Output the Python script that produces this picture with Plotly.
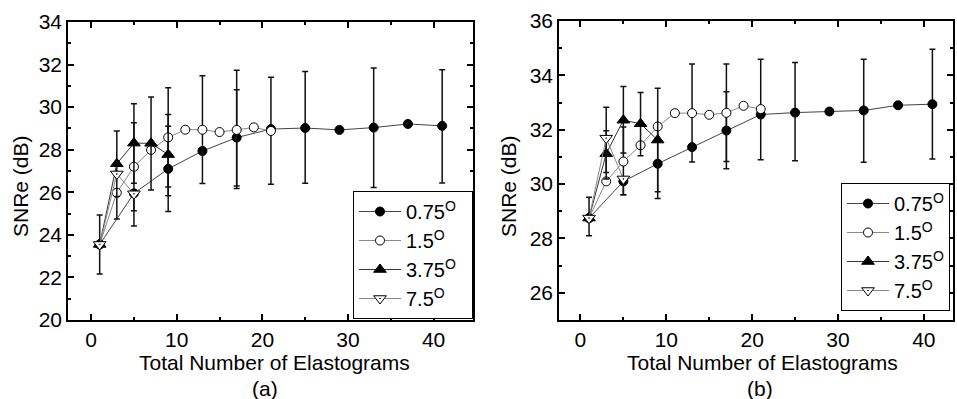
import plotly.graph_objects as go

# ---------------- data ----------------
angles = ["0.75", "1.5", "3.75", "7.5"]

x_075 = [1, 5, 9, 13, 17, 21, 25, 29, 33, 37, 41]
x_15 = [1, 3, 5, 7, 9, 11, 13, 15, 17, 19, 21]
x_375 = [1, 3, 5, 7, 9]
x_75 = [1, 3, 5]

# panel (a)
a_075 = [23.55, 25.95, 27.1, 27.94, 28.57, 28.97, 29.02, 28.93, 29.04, 29.21, 29.12]
a_075_up = [1.38, 0.0, 2.0, None, 2.25, 2.43, 2.65, None, 2.8, None, 2.64]
a_075_dn = [1.39, 1.53, 2.0, None, 2.27, 2.59, 2.6, None, 2.82, None, 2.68]

a_15 = [23.55, 25.98, 27.2, 27.99, 28.58, 28.94, 28.94, 28.83, 28.93, 29.05, 28.88]
a_15_up = [None, 0.0, 2.07, None, 2.33, None, 2.53, None, 2.8, None, None]
a_15_dn = [None, 1.23, 2.07, None, 2.33, None, 2.53, None, 2.75, None, None]

a_375 = [23.55, 27.34, 28.31, 28.3, 27.77]
a_375_up = [None, 1.54, 1.85, 2.18, 1.89]
a_375_dn = [None, 1.54, 1.89, 2.19, 1.93]

a_75 = [23.55, 26.86, 25.93]
a_75_up = [None, None, None]
a_75_dn = [None, None, None]

# panel (b)
b_075 = [28.75, 30.1, 30.75, 31.36, 31.97, 32.56, 32.63, 32.67, 32.71, 32.9, 32.94]
b_075_up = [0.77, 0.0, 1.28, None, 1.43, None, 1.84, None, 1.88, None, 2.02]
b_075_dn = [0.65, 0.49, 1.28, None, 1.41, None, 1.77, None, 1.91, None, 2.02]

b_15 = [28.75, 30.1, 30.83, 31.43, 32.12, 32.61, 32.61, 32.55, 32.62, 32.88, 32.76]
b_15_up = [None, None, 1.27, None, None, None, 1.81, None, 1.8, None, 1.83]
b_15_dn = [None, None, 1.22, None, None, None, 1.8, None, 1.79, None, 1.86]

b_375 = [28.75, 31.12, 32.35, 32.22, 31.62]
b_375_up = [None, 0.84, 1.24, 1.15, 1.91]
b_375_dn = [None, 0.93, 1.21, 1.18, 1.9]

b_75 = [28.75, 31.69, 30.19]
b_75_up = [None, 1.14, None]
b_75_dn = [None, 1.26, None]

x_ticks = [0, 10, 20, 30, 40]
ya_ticks = [20, 22, 24, 26, 28, 30, 32, 34]
yb_ticks = [26, 28, 30, 32, 34, 36]

# ---------------- styles ----------------
FONT = "Liberation Sans, Arial, Helvetica, sans-serif"
FS = 21
styles = [
    dict(symbol="circle", color="black", size=9, line=dict(color="black", width=1)),
    dict(symbol="circle", color="white", size=9, line=dict(color="black", width=1)),
    dict(symbol="triangle-up", color="black", size=11, line=dict(color="black", width=1)),
    dict(symbol="triangle-down-dot", color="white", size=11, line=dict(color="black", width=1)),
]
line_styles = [
    dict(color="#444444", width=1),
    dict(color="#888888", width=1),
    dict(color="#333333", width=1),
    dict(color="#888888", width=1),
]

fig = go.Figure()

panels = [
    ("x", "y", "legend", "&nbsp;&nbsp;",
     [(x_075, a_075, a_075_up, a_075_dn), (x_15, a_15, a_15_up, a_15_dn),
      (x_375, a_375, a_375_up, a_375_dn), (x_75, a_75, a_75_up, a_75_dn)]),
    ("x2", "y2", "legend2", "",
     [(x_075, b_075, b_075_up, b_075_dn), (x_15, b_15, b_15_up, b_15_dn),
      (x_375, b_375, b_375_up, b_375_dn), (x_75, b_75, b_75_up, b_75_dn)]),
]

for xa, ya, lg, pad, series in panels:
    for i, (xs, ys, up, dn) in enumerate(series):
        fig.add_trace(go.Scatter(
            x=xs, y=ys, mode="lines+markers",
            name=angles[i] + "<sup>O</sup>" + pad,
            marker=styles[i], line=line_styles[i],
            error_y=dict(type="data", symmetric=False, array=up, arrayminus=dn,
                         color="#111111", thickness=1.5, width=3),
            xaxis=xa, yaxis=ya, legend=lg,
        ))

axis_common = dict(
    showline=True, linecolor="black", linewidth=1.5, mirror="allticks",
    ticks="inside", ticklen=6, tickwidth=1.5, tickcolor="black",
    showgrid=False, zeroline=False, automargin=False,
    tickfont=dict(family=FONT, size=FS, color="black"),
)

legend_common = dict(xanchor="left", yanchor="top", bordercolor="black", borderwidth=1,
                     bgcolor="white", itemwidth=42, tracegroupgap=0,
                     font=dict(family=FONT, size=FS - 1, color="black"))

fig.update_layout(
    width=957, height=399,
    margin=dict(l=0, r=0, t=0, b=0, autoexpand=False),
    paper_bgcolor="white", plot_bgcolor="white",
    font=dict(family=FONT, size=FS, color="black"),
    xaxis=dict(domain=[68 / 957, 473 / 957], range=[-2.7, 44.6], tickvals=x_ticks,
               minor=dict(ticks="inside", ticklen=3, dtick=5, tick0=0, tickcolor="black", tickwidth=1.5),
               anchor="y", **axis_common),
    yaxis=dict(domain=[79 / 399, 377 / 399], range=[20, 34], tickvals=ya_ticks,
               minor=dict(ticks="inside", ticklen=3, dtick=1, tick0=0, tickcolor="black", tickwidth=1.5),
               anchor="x", **axis_common),
    xaxis2=dict(domain=[559 / 957, 953 / 957], range=[-2.5, 43.4], tickvals=x_ticks,
                minor=dict(ticks="inside", ticklen=3, dtick=5, tick0=0, tickcolor="black", tickwidth=1.5),
                anchor="y2", **axis_common),
    yaxis2=dict(domain=[79 / 399, 378 / 399], range=[25, 36], tickvals=yb_ticks,
                minor=dict(ticks="inside", ticklen=3, dtick=1, tick0=0, tickcolor="black", tickwidth=1.5),
                anchor="x2", **axis_common),
    legend=dict(x=353 / 957, y=(399 - 191) / 399, **legend_common),
    legend2=dict(x=841 / 957, y=(399 - 183) / 399, **legend_common),
    showlegend=True,
)

ann_font = dict(family=FONT, size=FS, color="black")
annotations = [
    dict(text="Total Number of Elastograms", x=274 / 957, y=(399 - 362) / 399, yanchor="middle"),
    dict(text="(a)", x=265 / 957, y=(399 - 388) / 399, yanchor="middle"),
    dict(text="Total Number of Elastograms", x=762 / 957, y=(399 - 362) / 399, yanchor="middle"),
    dict(text="(b)", x=760 / 957, y=(399 - 388) / 399, yanchor="middle"),
    dict(text="SNRe (dB)", x=20 / 957, y=(399 - 186) / 399, textangle=-90, yanchor="middle"),
    dict(text="SNRe (dB)", x=508 / 957, y=(399 - 186) / 399, textangle=-90, yanchor="middle"),
]
for a in annotations:
    fig.add_annotation(xref="paper", yref="paper", showarrow=False,
                       xanchor="center", font=ann_font, **a)

fig.write_html("out.html", config={"displayModeBar": False},
               post_script="document.body.style.margin='0px';document.body.style.overflow='hidden';")
